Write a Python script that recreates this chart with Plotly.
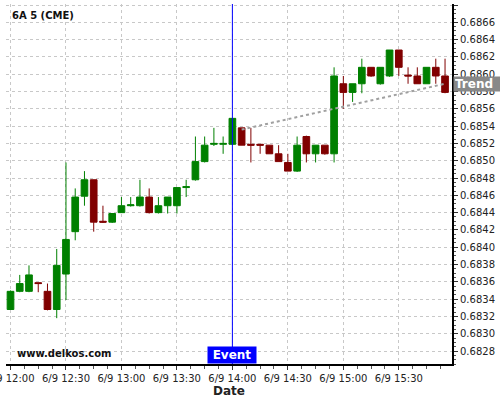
import pandas as pd
import plotly.graph_objects as go

# ---- data ----
times = pd.date_range("2025-06-09 12:00", "2025-06-09 15:55", freq="5min")
opens = [0.68328, 0.68349, 0.68349, 0.68359, 0.68349, 0.68328, 0.68369, 0.68418,
         0.68459, 0.68478, 0.68430, 0.68429, 0.68440, 0.68448, 0.68448, 0.68458,
         0.68440, 0.68448, 0.68448, 0.68469, 0.68478, 0.68499, 0.68519, 0.68519,
         0.68519, 0.68538, 0.68519, 0.68519, 0.68518, 0.68508, 0.68498, 0.68488,
         0.68528, 0.68508, 0.68518, 0.68508, 0.68589, 0.68579, 0.68589, 0.68608,
         0.68589, 0.68598, 0.68628, 0.68599, 0.68598, 0.68589, 0.68608, 0.68598]
highs = [0.68350, 0.68368, 0.68379, 0.68359, 0.68358, 0.68398, 0.68498, 0.68468,
         0.68488, 0.68478, 0.68448, 0.68439, 0.68458, 0.68458, 0.68478, 0.68468,
         0.68458, 0.68458, 0.68469, 0.68478, 0.68528, 0.68528, 0.68538, 0.68528,
         0.68549, 0.68538, 0.68538, 0.68519, 0.68518, 0.68518, 0.68508, 0.68528,
         0.68529, 0.68518, 0.68518, 0.68608, 0.68598, 0.68589, 0.68618, 0.68608,
         0.68608, 0.68628, 0.68628, 0.68608, 0.68608, 0.68608, 0.68618, 0.68618]
lows = [0.68328, 0.68348, 0.68348, 0.68348, 0.68327, 0.68318, 0.68339, 0.68408,
        0.68448, 0.68418, 0.68428, 0.68428, 0.68440, 0.68447, 0.68447, 0.68439,
        0.68439, 0.68439, 0.68439, 0.68458, 0.68477, 0.68498, 0.68517, 0.68508,
        0.68518, 0.68518, 0.68498, 0.68508, 0.68508, 0.68499, 0.68488, 0.68487,
        0.68498, 0.68498, 0.68507, 0.68498, 0.68560, 0.68568, 0.68578, 0.68597,
        0.68588, 0.68597, 0.68598, 0.68589, 0.68589, 0.68589, 0.68589, 0.68578]
closes = [0.68349, 0.68358, 0.68368, 0.68358, 0.68328, 0.68379, 0.68409, 0.68458,
          0.68478, 0.68429, 0.68429, 0.68439, 0.68448, 0.68449, 0.68458, 0.68440,
          0.68448, 0.68458, 0.68469, 0.68470, 0.68499, 0.68518, 0.68520, 0.68520,
          0.68549, 0.68518, 0.68518, 0.68518, 0.68508, 0.68499, 0.68488, 0.68518,
          0.68508, 0.68518, 0.68508, 0.68598, 0.68579, 0.68589, 0.68608, 0.68598,
          0.68608, 0.68628, 0.68608, 0.68598, 0.68589, 0.68608, 0.68598, 0.68579]

trend_x = ["2025-06-09 14:05", "2025-06-09 15:55"]
trend_y = [0.68536, 0.68589]
event_time = "2025-06-09 14:00"

x_tick_vals = ["2025-06-09 12:00", "2025-06-09 12:30", "2025-06-09 13:00", "2025-06-09 13:30",
               "2025-06-09 14:00", "2025-06-09 14:30", "2025-06-09 15:00", "2025-06-09 15:30"]
x_tick_text = ["6/9 12:00", "6/9 12:30", "6/9 13:00", "6/9 13:30",
               "6/9 14:00", "6/9 14:30", "6/9 15:00", "6/9 15:30"]

GREEN = "#008000"
RED = "#800000"
FONT = "DejaVu Sans"

fig = go.Figure()
fig.add_trace(go.Candlestick(
    x=times, open=opens, high=highs, low=lows, close=closes,
    increasing=dict(line=dict(color=GREEN, width=1), fillcolor=GREEN),
    decreasing=dict(line=dict(color=RED, width=1), fillcolor=RED),
    whiskerwidth=0, hoverinfo="skip", showlegend=False,
))
fig.add_trace(go.Scatter(
    x=trend_x, y=trend_y, mode="lines",
    line=dict(color="#a0a0a0", width=2, dash="dot"),
    hoverinfo="skip", showlegend=False,
))

fig.add_shape(type="line", xref="x", yref="paper", x0=event_time, x1=event_time,
              y0=0, y1=1, line=dict(color="#0000ff", width=1))

fig.add_annotation(xref="x", yref="paper", x=event_time, y=0, yanchor="bottom",
                   text="<b>Event</b>", showarrow=False, bgcolor="#0000ff",
                   font=dict(family=FONT, size=12, color="white"),
                   borderpad=1, width=46, height=14)
fig.add_annotation(xref="paper", yref="y", x=1, xanchor="left", xshift=1, y=trend_y[1],
                   text="<b>Trend</b>", showarrow=False, bgcolor="#888888",
                   font=dict(family=FONT, size=12, color="white"),
                   borderpad=1, align="left", width=50, height=12)
fig.add_annotation(xref="paper", yref="paper", x=0.01, xanchor="left", y=0.967, yanchor="middle",
                   text="<b>6A 5 (CME)</b>", showarrow=False,
                   font=dict(family=FONT, size=10, color="#111111"))
fig.add_annotation(xref="paper", yref="paper", x=0.02, xanchor="left", y=0.028, yanchor="middle",
                   text="<b>www.delkos.com</b>", showarrow=False,
                   font=dict(family=FONT, size=10, color="#111111"))

fig.update_layout(
    width=500, height=400,
    margin=dict(l=6, r=48, t=4, b=36, autoexpand=False),
    paper_bgcolor="white", plot_bgcolor="white",
    font=dict(family=FONT, size=10, color="#222222"),
    boxgap=0.28, boxgroupgap=0,
    xaxis=dict(
        type="date", automargin=False,
        range=["2025-06-09 11:57:34", "2025-06-09 15:58:46"],
        rangeslider=dict(visible=False),
        tickvals=x_tick_vals, ticktext=x_tick_text,
        ticklabeloverflow="allow",
        ticks="outside", ticklen=4, tickcolor="#333",
        showline=True, linecolor="black", linewidth=1.5,
        showgrid=True, gridcolor="#c8c8c8", griddash="3px,3px", gridwidth=1,
        zeroline=False,
        minor=dict(dtick=7.5 * 60 * 1000, tick0="2025-06-09 12:00", ticks="outside",
                   ticklen=3, tickcolor="#555", showgrid=False),
        title=dict(text="<b>Date</b>", font=dict(family=FONT, size=12, color="#222"), standoff=3),
        tickfont=dict(family=FONT, size=10, color="#222"),
    ),
    yaxis=dict(
        side="right", automargin=False,
        range=[0.68265, 0.686812],
        dtick=0.0002, tick0=0.6828, tickformat=".4f",
        ticks="outside", ticklen=4, tickcolor="#333",
        showline=True, linecolor="black", linewidth=2,
        showgrid=True, gridcolor="#c8c8c8", griddash="3px,3px", gridwidth=1,
        zeroline=False,
        minor=dict(dtick=0.00005, tick0=0.6828, ticks="outside", ticklen=2,
                   tickcolor="#555", showgrid=False),
        tickfont=dict(family=FONT, size=10, color="#222"),
    ),
)

fig.write_html("out.html", config={"displayModeBar": False},
               post_script="document.body.style.margin='0px';document.body.style.padding='0px';")
